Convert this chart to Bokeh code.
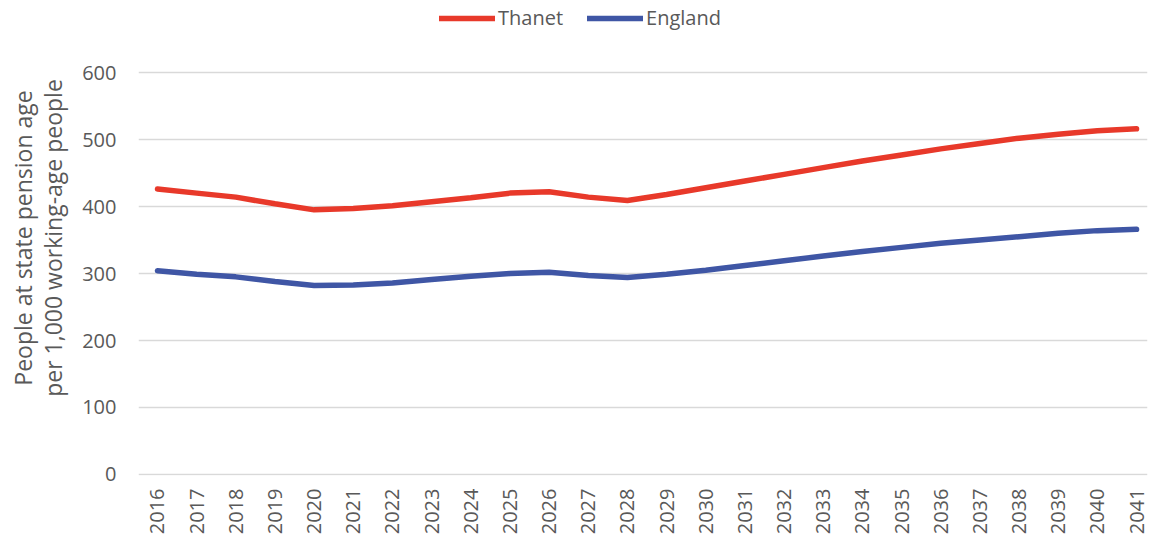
import math
from bokeh.plotting import figure
from bokeh.models import ColumnDataSource, Legend, LegendItem, FixedTicker
from bokeh.embed import file_html
from bokeh.resources import INLINE

years = list(range(2016, 2042))
thanet = [426, 420, 414, 404, 395, 397, 401, 407, 413, 420, 422, 414, 409,
          418, 428, 438, 448, 458, 468, 477, 486, 494, 502, 508, 513, 516]
england = [304, 299, 295, 288, 282, 283, 286, 291, 296, 300, 302, 297, 294,
           299, 305, 312, 319, 326, 333, 339, 345, 350, 355, 360, 364, 366]
y_ticks = [0, 100, 200, 300, 400, 500, 600]
y_title = "People at state pension age\nper 1,000 working-age people"

FONT = "Open Sans"
GREY = "#595959"

# frame spans the full height so the legend (drawn inside the frame) can sit at the top
p = figure(width=1150, height=540, output_backend="svg", toolbar_location=None,
           x_range=(2015.515, 2041.28), y_range=(-1.5, 707.5),
           min_border_left=138, min_border_right=3, min_border_top=0, min_border_bottom=65)
p.outline_line_color = None

src = ColumnDataSource(dict(x=years, t=thanet, e=england))
r1 = p.line("x", "t", source=src, line_color="#E8392A", line_width=5.5, line_cap="round")
r2 = p.line("x", "e", source=src, line_color="#3F56A5", line_width=5.5, line_cap="round")

p.xaxis.ticker = FixedTicker(ticks=years)
p.xaxis.major_label_orientation = math.pi / 2
p.yaxis.ticker = FixedTicker(ticks=y_ticks)
for ax in (p.xaxis[0], p.yaxis[0]):
    ax.axis_line_color = None
    ax.major_tick_line_color = None
    ax.minor_tick_line_color = None
    ax.major_tick_out = 0
    ax.major_tick_in = 0
    ax.major_label_text_font = FONT
    ax.major_label_text_font_size = "20px"
    ax.major_label_text_color = GREY
p.xaxis.major_label_standoff = 13
p.yaxis.major_label_standoff = 22
p.xgrid.grid_line_color = None
p.ygrid.grid_line_color = "#D9D9D9"
p.ygrid.grid_line_width = 1.5

p.yaxis.axis_label = y_title
p.yaxis.axis_label_text_font = FONT
p.yaxis.axis_label_text_font_size = "23px"
p.yaxis.axis_label_text_font_style = "normal"
p.yaxis.axis_label_text_color = GREY
p.yaxis.axis_label_text_line_height = 0.95
p.yaxis.axis_label_standoff = 10

legend = Legend(items=[LegendItem(label="Thanet", renderers=[r1]),
                       LegendItem(label="England", renderers=[r2])],
                orientation="horizontal", location=(301, 444),
                label_text_font=FONT, label_text_font_size="20px", label_text_color=GREY,
                border_line_color=None, background_fill_alpha=0,
                glyph_width=56, spacing=24, padding=0, margin=0, label_standoff=3)
p.add_layout(legend, "center")

open("out.html", "w").write(file_html(p, INLINE))
